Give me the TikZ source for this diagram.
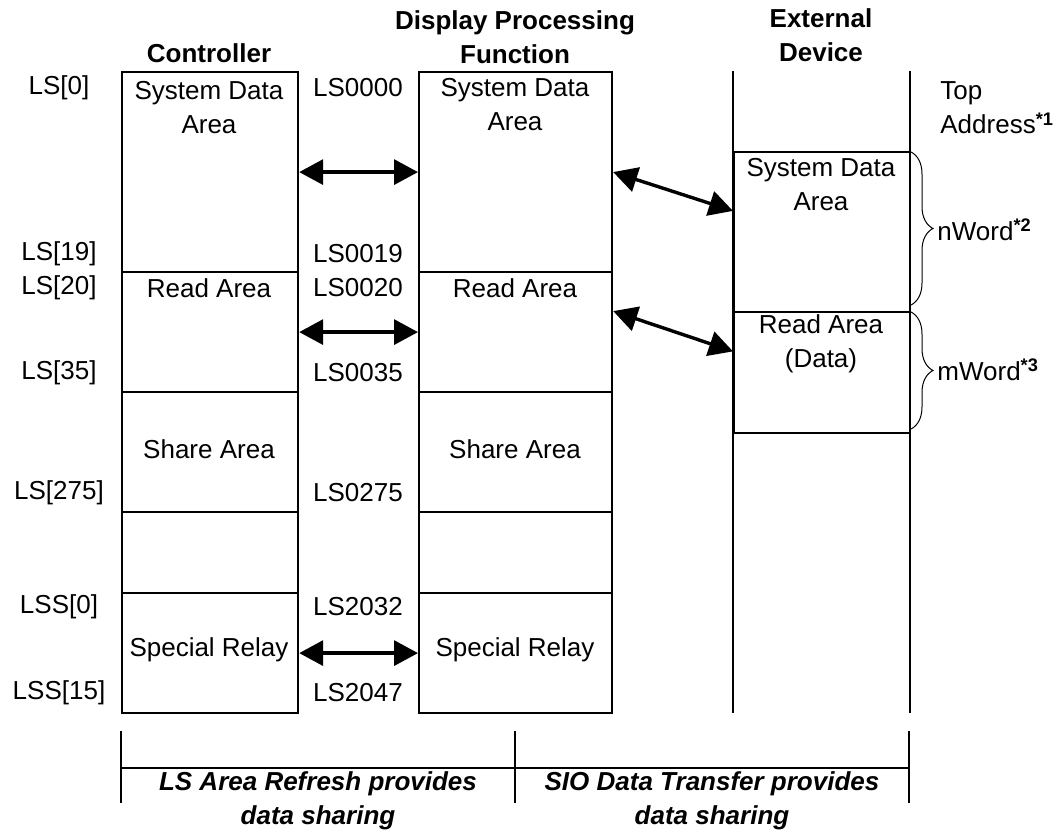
\documentclass[tikz,border=0pt]{standalone}
\usepackage{fontspec}
\setmainfont{Liberation Sans}
\usetikzlibrary{positioning,arrows.meta,decorations.pathreplacing}

\begin{document}
\begin{tikzpicture}[x=0.5pt, y=-0.5pt,
    every node/.style={font=\fontsize{13}{17}\selectfont, inner sep=0pt},
    area/.style={draw, line width=1.1pt, anchor=north west, minimum width=88pt},
    dparea/.style={area, minimum width=96.5pt},
    exarea/.style={draw, line width=0.9pt, anchor=north west, minimum width=88pt},
    head/.style={align=center, font=\fontsize{13}{17}\selectfont\bfseries},
    txt/.style={align=center},
    xfer/.style={{Triangle[length=12pt,width=12.5pt]}-{Triangle[length=12pt,width=12.5pt]}, line width=1.7pt},
    wbrace/.style={decorate, decoration={brace, amplitude=11pt}, line width=0.5pt},
    foot/.style={align=center, font=\fontsize{13}{17}\selectfont\bfseries\itshape}
  ]
    \useasboundingbox (0,0) rectangle (1062,834);

    % headings
    \node[head] (hctrl) at (209,53) {Controller};
    \node[head] (hdisp) at (515,37) {Display Processing\\Function};
    \node[head] (hext) at (821,35) {External\\Device};

    % controller areas
    \node[area, minimum height=100pt] (csys) at (121,71) {};
    \node[area, minimum height=60pt] (crd) at (121,271) {};
    \node[area, minimum height=60pt] (csh) at (121,391) {};
    \node[area, minimum height=40.5pt] (cfree) at (121,511) {};
    \node[area, minimum height=60pt] (crl) at (121,592) {};
    \node[txt] (csystxt) at (209,108) {System Data\\Area};
    \node[txt] (crdtxt) at (209,288) {Read Area};
    \node[txt] (cshtxt) at (209,449) {Share Area};
    \node[txt] (crltxt) at (209,650) {Special Relay};

    % display processing areas
    \node[dparea, minimum height=100pt] (dsys) at (418,71) {};
    \node[dparea, minimum height=60pt] (drd) at (418,271) {};
    \node[dparea, minimum height=60pt] (dsh) at (418,391) {};
    \node[dparea, minimum height=40.5pt] (dfree) at (418,511) {};
    \node[dparea, minimum height=60pt] (drl) at (418,592) {};
    \node[txt] (dsystxt) at (515,105) {System Data\\Area};
    \node[txt] (drdtxt) at (515,288) {Read Area};
    \node[txt] (dshtxt) at (515,449) {Share Area};
    \node[txt] (drltxt) at (515,650) {Special Relay};

    % external device
    \node[anchor=north west, minimum width=88pt, minimum height=320.5pt] (ecol) at (733,71) {};
    \draw[line width=0.9pt] (ecol.north west) -- (ecol.south west)
                            (ecol.north east) -- (ecol.south east);
    \node[exarea, minimum height=80pt] (esys) at (733,151) {};
    \node[exarea, minimum height=60.5pt] (erd) at (733,311) {};
    \node[txt] (esystxt) at (821,185) {System Data\\Area};
    \node[txt] (erdtxt) at (821,344) {Read Area\\(Data)};

    % addresses
    \node (a0) at (59,88) {LS[0]};
    \node (a19) at (59,254) {LS[19]};
    \node (a20) at (59,288) {LS[20]};
    \node (a35) at (59,373) {LS[35]};
    \node (a275) at (59,493) {LS[275]};
    \node (s0) at (59,607) {LSS[0]};
    \node (s15) at (59,693) {LSS[15]};
    \node (l0000) at (358,88) {LS0000};
    \node (l0019) at (358,254) {LS0019};
    \node (l0020) at (358,288) {LS0020};
    \node (l0035) at (358,373) {LS0035};
    \node (l0275) at (358,493) {LS0275};
    \node (l2032) at (358,607) {LS2032};
    \node (l2047) at (358,693) {LS2047};

    % transfers
    \draw[xfer] (csys.east) -- (dsys.west);
    \draw[xfer] (crd.east) -- (drd.west);
    \draw[xfer] (crl.east) -- (drl.west);
    \draw[xfer] (dsys.east) -- ([yshift=10.5pt]esys.west);
    \draw[xfer] ([yshift=10.5pt]drd.east) -- ([yshift=10.5pt]erd.west);

    % word counts
    \node[align=left, anchor=west] (top) at (940,108) {Top\\Address\textsuperscript{\bfseries *1}};
    \draw[wbrace] (911,152) -- (911,305);
    \draw[wbrace] (911,312) -- (911,429);
    \node[anchor=west] (nw) at (937,230) {nWord\textsuperscript{\bfseries *2}};
    \node[anchor=west] (mw) at (937,370) {mWord\textsuperscript{\bfseries *3}};

    % sharing ranges
    \draw[line width=1pt] (121,731) -- (121,803) (515,731) -- (515,803) (909,731) -- (909,803)
                          (121,768) -- (909,768);
    \node[foot] (lsref) at (318,801) {LS Area Refresh provides\\data sharing};
    \node[foot] (sioref) at (712,801) {SIO Data Transfer provides\\data sharing};
\end{tikzpicture}
\end{document}
